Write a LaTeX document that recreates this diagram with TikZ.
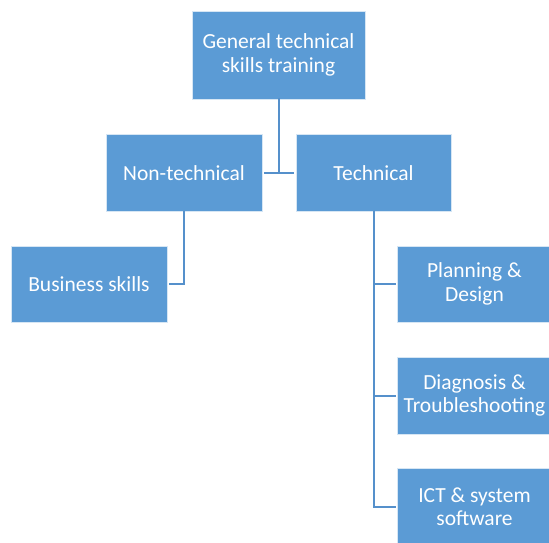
\documentclass[tikz,border=0pt]{standalone}
\usepackage{fontspec}
\setmainfont{Carlito}
\definecolor{boxblue}{HTML}{5B9BD5}
\definecolor{lineblue}{HTML}{5590CB}
\tikzset{
  box/.style={rectangle, fill=boxblue, draw=white!75!boxblue, line width=0.8pt,
    text=white, align=center, inner sep=0pt,
    font=\fontsize{21.5}{23.3}\selectfont},
  link/.style={draw=lineblue, line width=2pt}
}
\begin{document}
\begin{tikzpicture}[x=1pt,y=-1pt]
\useasboundingbox (0,0) rectangle (549,543);
\fill[white] (0,0) rectangle (549,543);
\node[box, minimum width=173pt, minimum height=88pt] (gen) at (278.5,55) {General technical\\skills training};
\node[box, minimum width=156pt, minimum height=77pt] (non) at (184,173) {Non-technical};
\node[box, minimum width=155pt, minimum height=77pt] (tech) at (373.5,173) {Technical};
\node[box, minimum width=156pt, minimum height=76pt] (bus) at (89,284) {Business skills};
\node[box, minimum width=155pt, minimum height=76pt] (plan) at (474.5,284) {Planning \&\\Design};
\node[box, minimum width=155pt, minimum height=77pt] (diag) at (474.5,395.5) {Diagnosis \&\\Troubleshooting};
\node[box, minimum width=155pt, minimum height=77pt] (ict) at (474.5,507) {ICT \& system\\software};
\draw[link] ([yshift=1pt]gen.south) -- (gen.south |- non.east);
\draw[link] ([xshift=1.5pt]non.east) -- ([xshift=-1.5pt]tech.west);
\draw[link] ([yshift=1pt]non.south) |- ([xshift=1.5pt]bus.east);
\draw[link] ([yshift=1pt]tech.south) |- ([xshift=-1pt]plan.west);
\draw[link] ([yshift=1pt]tech.south) |- ([xshift=-1pt]diag.west);
\draw[link] ([yshift=1pt]tech.south) |- ([xshift=-1pt]ict.west);
\end{tikzpicture}
\end{document}
